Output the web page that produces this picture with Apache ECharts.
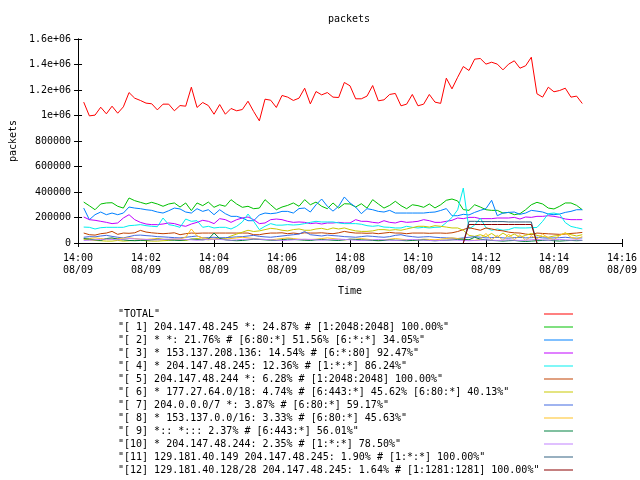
<!DOCTYPE html>
<html><head><meta charset="utf-8">
<script src="https://cdn.jsdelivr.net/npm/echarts@6/dist/echarts.min.js"></script>
<style>html,body{margin:0;padding:0;background:#fff}#c{width:640px;height:480px}</style>
</head><body><div id="c"></div><script>
const FONT = '"DejaVu Sans Mono", "Liberation Mono", monospace';
// sample times: seconds after 14:00:00 on 08/09, one sample every 10 s
const startSec = 10, stepSec = 10;
const xTickLabels = ['14:00\n08/09','14:02\n08/09','14:04\n08/09','14:06\n08/09','14:08\n08/09','14:10\n08/09','14:12\n08/09','14:14\n08/09','14:16\n08/09'];
const yTickLabels = ['0','200000','400000','600000','800000','1e+06','1.2e+06','1.4e+06','1.6e+06'];
const seriesNames = [
 '"TOTAL"',
 '"[ 1] 204.147.48.245 *: 24.87% # [1:2048:2048] 100.00%"',
 '"[ 2] * *: 21.76% # [6:80:*] 51.56% [6:*:*] 34.05%"',
 '"[ 3] * 153.137.208.136: 14.54% # [6:*:80] 92.47%"',
 '"[ 4] * 204.147.48.245: 12.36% # [1:*:*] 86.24%"',
 '"[ 5] 204.147.48.244 *: 6.28% # [1:2048:2048] 100.00%"',
 '"[ 6] * 177.27.64.0/18: 4.74% # [6:443:*] 45.62% [6:80:*] 40.13%"',
 '"[ 7] 204.0.0.0/7 *: 3.87% # [6:80:*] 59.17%"',
 '"[ 8] * 153.137.0.0/16: 3.33% # [6:80:*] 45.63%"',
 '"[ 9] *:: *::: 2.37% # [6:443:*] 56.01%"',
 '"[10] * 204.147.48.244: 2.35% # [1:*:*] 78.50%"',
 '"[11] 129.181.40.149 204.147.48.245: 1.90% # [1:*:*] 100.00%"',
 '"[12] 129.181.40.128/28 204.147.48.245: 1.64% # [1:1281:1281] 100.00%"'
];
const seriesColors = ['#ff0000','#00c000','#0080ff','#c000ff','#00eeee','#c04000','#c8c800','#4169e1','#ffc020','#008040','#c080ff','#306080','#8b0000'];
// values in thousands of packets
const totalK = [1105,997,1003,1065,1013,1073,1018,1068,1180,1136,
1118,1097,1092,1044,1089,1089,1037,1078,1073,1222,
1063,1102,1078,1010,1086,1010,1055,1037,1047,1112,
1031,958,1128,1120,1063,1157,1144,1118,1136,1214,
1091,1188,1162,1180,1144,1141,1259,1233,1131,1131,
1152,1235,1115,1123,1165,1173,1076,1089,1165,1076,
1089,1165,1105,1095,1293,1209,1300,1384,1353,1442,
1447,1403,1418,1403,1358,1403,1429,1371,1390,1457,
1170,1144,1222,1186,1196,1214,1144,1152,1094];
const s1K = [321,292,261,306,314,316,288,274,353,332,
319,306,319,306,288,306,314,282,314,254,
314,293,321,280,300,288,340,306,280,288,
269,274,340,300,261,282,295,314,288,340,
300,321,288,269,314,274,308,306,282,308,
274,340,306,274,295,327,293,269,300,293,
280,306,275,300,335,345,330,262,256,300,
282,261,256,256,235,240,222,230,261,300,
319,306,274,267,288,314,314,295,261];
const s2K = [274,183,222,243,222,235,222,235,282,274,
269,261,256,243,235,253,274,267,243,235,
269,248,261,222,261,230,209,209,196,175,
175,220,235,230,235,248,248,235,270,274,
243,300,345,288,250,288,361,314,282,230,
269,261,248,243,256,235,235,235,235,235,
235,240,243,255,270,214,214,225,220,240,
256,270,335,214,235,240,243,225,235,256,
250,243,227,222,227,240,248,261,261];
const s3K = [204,183,178,170,162,152,157,196,222,183,
162,149,144,144,149,157,152,139,131,149,
162,178,170,152,191,183,162,183,196,204,
183,152,157,183,188,183,170,162,165,162,
152,157,149,157,157,162,157,157,183,170,
170,162,157,175,162,157,170,162,165,170,
183,175,162,162,170,178,196,191,201,201,
191,191,191,196,196,196,201,188,204,201,
209,209,214,209,201,188,183,183,183];
const s4K = [125,123,110,120,123,123,123,123,136,139,
144,136,131,128,196,144,136,123,188,170,
175,123,131,118,123,123,110,131,165,227,
170,105,131,152,140,140,144,141,144,152,
162,170,165,165,165,157,152,152,152,147,
136,131,136,125,123,118,118,131,123,118,
123,118,123,125,160,200,260,431,110,140,
195,120,100,110,100,105,120,118,118,120,
122,170,230,235,225,160,130,120,110];
const s5K = [78,65,62,73,78,91,68,78,76,80,
99,86,80,76,73,76,80,65,73,78,
76,78,78,78,78,78,78,78,78,78,
65,65,73,78,78,80,73,78,73,80,
78,78,80,76,73,80,91,83,78,78,
76,78,73,78,83,78,78,73,78,78,
78,76,78,78,76,80,90,105,120,110,
100,118,110,100,95,85,80,78,70,65,
78,75,72,70,68,70,75,78,83];
const s6K = [30,25,20,18,15,15,20,15,18,20,
22,18,15,15,18,20,25,22,20,30,
35,30,25,30,40,35,55,70,85,100,
90,95,105,115,110,100,95,105,110,100,
100,110,115,105,118,110,118,105,95,91,
91,95,105,105,100,105,100,110,120,131,
131,125,136,131,125,118,118,100,60,52,
65,50,75,45,78,50,70,45,60,75,
60,50,45,55,60,78,65,55,65];
const s7K = [45,50,48,55,60,52,45,40,50,60,
62,58,55,50,48,45,42,40,45,50,
55,40,42,45,40,42,45,48,50,55,
60,52,48,45,50,55,60,65,70,90,
65,60,55,62,58,55,50,48,45,50,
55,52,48,45,50,60,65,55,50,45,
48,50,45,42,40,38,35,40,45,50,
45,40,42,45,40,38,42,45,40,42,
45,40,38,40,42,45,40,38,40];
const s8K = [30,35,40,35,30,32,35,38,40,35,
30,28,32,35,30,28,30,32,45,110,
55,40,35,30,28,30,35,40,45,40,
35,30,28,25,30,35,40,35,30,25,
28,30,35,40,35,30,25,28,30,35,
30,25,20,25,30,35,30,25,20,25,
30,28,25,30,35,40,35,30,25,20,
30,75,25,60,20,70,25,65,20,55,
30,70,40,25,60,80,45,30,50];
const s9K = [35,30,25,20,35,40,30,25,20,18,
20,22,25,30,28,25,22,20,25,30,
28,25,30,78,35,25,20,18,20,25,
30,28,25,22,20,25,30,28,25,22,
20,25,28,25,22,20,25,30,28,25,
22,20,18,20,25,22,20,18,20,22,
25,20,18,20,22,25,28,30,25,45,
30,25,20,18,15,18,20,15,12,15,
18,20,22,18,15,18,20,18,20];
const s10K = [20,22,25,28,30,28,25,30,35,32,
30,28,25,25,28,30,32,30,28,25,
22,25,28,30,28,25,22,25,28,30,
32,30,28,25,22,20,22,25,28,30,
28,25,22,25,28,30,28,25,22,20,
22,25,28,25,22,20,22,25,28,25,
22,20,18,20,22,25,22,20,18,20,
22,25,22,20,22,25,22,20,22,25,
28,25,22,25,28,25,22,25,22];
const s11K = [null,null,null,null,null,null,null,null,null,null,
null,null,null,null,null,null,null,null,null,null,
null,null,null,null,null,null,null,null,null,null,
null,null,null,null,null,null,null,null,null,null,
null,null,null,null,null,null,null,null,null,null,
null,null,null,null,null,null,null,null,null,null,
null,null,null,null,null,null,null,0,170,170,
168,168,168,168,168,165,165,165,165,165,
0,null,null,null,null,null,null,null,null];
const s12K = [null,null,null,null,null,null,null,null,null,null,
null,null,null,null,null,null,null,null,null,null,
null,null,null,null,null,null,null,null,null,null,
null,null,null,null,null,null,null,null,null,null,
null,null,null,null,null,null,null,null,null,null,
null,null,null,null,null,null,null,null,null,null,
null,null,null,null,null,null,null,0,145,145,
145,145,145,145,145,145,145,145,145,145,
0,null,null,null,null,null,null,null,null];
const allK = [totalK,s1K,s2K,s3K,s4K,s5K,s6K,s7K,s8K,s9K,s10K,s11K,s12K];

const toData = arr => { const d = []; arr.forEach((v,i)=>{ if (v !== null) d.push([startSec + i*stepSec, v*1000]); }); return d; };

const txt = {color:'#000', fontFamily:FONT, fontSize:10};
const axLine = {show:true, lineStyle:{color:'#000', width:1}};
const tick = {show:true, inside:true, length:4, lineStyle:{color:'#000', width:1}};

const chart = echarts.init(document.getElementById('c'));
chart.setOption({
  animation:false,
  backgroundColor:'#fff',
  title:{text:'packets', left:328, top:14, padding:0, textStyle:Object.assign({fontWeight:'normal'}, txt)},
  grid:{left:76, right:18, top:39, bottom:237, containLabel:false},
  legend:{orient:'vertical', left:118, top:309, padding:0, itemGap:3, itemWidth:29, itemHeight:1,
    icon:'rect', align:'right', selectedMode:false, data:seriesNames,
    formatter: n => '{t|' + n + '}',
    textStyle:Object.assign({rich:{t:Object.assign({width:421, align:'left'}, txt)}}, txt)},
  xAxis:[
    {type:'value', min:0, max:960, interval:120, position:'bottom', axisLine:axLine, axisTick:tick,
     splitLine:{show:false},
     axisLabel:Object.assign({formatter: v => xTickLabels[Math.round(v/120)], lineHeight:12, margin:9}, txt),
     name:'Time', nameLocation:'middle', nameGap:43, nameTextStyle:txt},
    {type:'value', min:0, max:960, interval:120, position:'top', axisLine:axLine, axisTick:tick,
     splitLine:{show:false}, axisLabel:{show:false}}
  ],
  yAxis:[
    {type:'value', min:0, max:1600000, interval:200000, position:'left', axisLine:axLine, axisTick:tick,
     splitLine:{show:false},
     axisLabel:Object.assign({formatter: v => yTickLabels[Math.round(v/200000)], margin:7}, txt),
     name:'packets', nameLocation:'middle', nameGap:58, nameRotate:90, nameTextStyle:txt},
    {type:'value', min:0, max:1600000, interval:200000, position:'right', axisLine:axLine, axisTick:tick,
     splitLine:{show:false}, axisLabel:{show:false}}
  ],
  series: allK.map((arr,k)=>({
    type:'line', name:seriesNames[k], data:toData(arr), xAxisIndex:0, yAxisIndex:0,
    symbol:'none', showSymbol:false, silent:true,
    lineStyle:{width:1, color:seriesColors[k]}, itemStyle:{color:seriesColors[k]}
  }))
});
</script></body></html>
